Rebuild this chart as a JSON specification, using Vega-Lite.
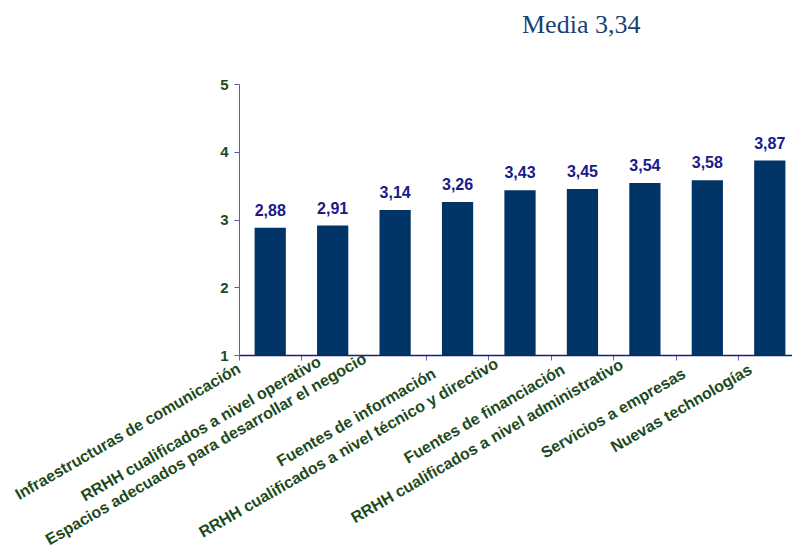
{
  "$schema": "https://vega.github.io/schema/vega-lite/v6.json",
  "autosize": {"type": "none"},
  "padding": {"left": 239, "top": 84, "right": -9, "bottom": 192},
  "width": 562,
  "height": 271,
  "background": "white",
  "title": {
    "text": "Media 3,34",
    "font": "Liberation Serif",
    "fontSize": 26,
    "fontWeight": "normal",
    "color": "#1b3f73",
    "anchor": "start",
    "frame": "group",
    "dx": 283,
    "offset": 39
  },
  "data": {
    "values": [
      {"factor": "Infraestructuras de comunicación", "valor": 2.88},
      {"factor": "RRHH cualificados a nivel operativo", "valor": 2.91},
      {"factor": "Espacios adecuados para desarrollar el negocio", "valor": 3.14},
      {"factor": "Fuentes de información", "valor": 3.26},
      {"factor": "RRHH cualificados a nivel técnico y directivo", "valor": 3.43},
      {"factor": "Fuentes de financiación", "valor": 3.45},
      {"factor": "RRHH cualificados a nivel administrativo", "valor": 3.54},
      {"factor": "Servicios a empresas", "valor": 3.58},
      {"factor": "Nuevas technologías", "valor": 3.87}
    ]
  },
  "encoding": {
    "x": {
      "field": "factor",
      "type": "nominal",
      "sort": null,
      "scale": {"paddingInner": 0.5, "paddingOuter": 0.25},
      "axis": {
        "title": null,
        "labelAngle": -30,
        "labelAlign": "right",
        "labelBaseline": "middle",
        "labelOffset": {
          "condition": [
            {"test": "datum.value === 'Infraestructuras de comunicación'", "value": -31},
            {"test": "datum.value === 'RRHH cualificados a nivel operativo'", "value": -13},
            {"test": "datum.value === 'Espacios adecuados para desarrollar el negocio'", "value": -30},
            {"test": "datum.value === 'Fuentes de financiación'", "value": -19},
            {"test": "datum.value === 'Nuevas technologías'", "value": -19}
          ],
          "value": -23
        },
        "labelPadding": {
          "condition": [
            {"test": "datum.value === 'Infraestructuras de comunicación'", "value": 7},
            {"test": "datum.value === 'RRHH cualificados a nivel operativo'", "value": 0},
            {"test": "datum.value === 'Espacios adecuados para desarrollar el negocio'", "value": -3},
            {"test": "datum.value === 'RRHH cualificados a nivel técnico y directivo'", "value": 2},
            {"test": "datum.value === 'RRHH cualificados a nivel administrativo'", "value": 3},
            {"test": "datum.value === 'Fuentes de financiación'", "value": 8},
            {"test": "datum.value === 'Nuevas technologías'", "value": 8}
          ],
          "value": 12
        },
        "labelFont": "Liberation Sans",
        "labelFontSize": 16,
        "labelFontWeight": "bold",
        "labelColor": "#1d4a1d",
        "labelLimit": 0,
        "labelOverlap": false,
        "bandPosition": -0.5,
        "domainColor": "#1a1a80",
        "domainWidth": 1.5,
        "tickColor": "#6060b8",
        "tickSize": 5,
        "grid": false
      }
    },
    "y": {
      "field": "valor",
      "type": "quantitative",
      "scale": {"domain": [1, 5], "zero": false, "nice": false},
      "axis": {
        "title": null,
        "values": [1, 2, 3, 4, 5],
        "format": "d",
        "labelFont": "Liberation Sans",
        "labelFontSize": 15,
        "labelFontWeight": "bold",
        "labelColor": "#1d4a1d",
        "labelPadding": 6,
        "domainColor": "#5a5ab0",
        "tickColor": "#5a5ab0",
        "tickSize": 5,
        "grid": false
      }
    }
  },
  "layer": [
    {
      "mark": {"type": "bar", "color": "#003366"},
      "encoding": {"y2": {"datum": 1}}
    },
    {
      "mark": {
        "type": "text",
        "baseline": "bottom",
        "dy": -9,
        "font": "Liberation Sans",
        "fontSize": 16,
        "fontWeight": "bold",
        "color": "#1a1a8a"
      },
      "encoding": {"text": {"field": "valor", "type": "quantitative", "format": ".2f"}}
    }
  ],
  "config": {
    "view": {"stroke": null},
    "locale": {
      "number": {"decimal": ",", "thousands": ".", "grouping": [3], "currency": ["", " €"]}
    }
  }
}
